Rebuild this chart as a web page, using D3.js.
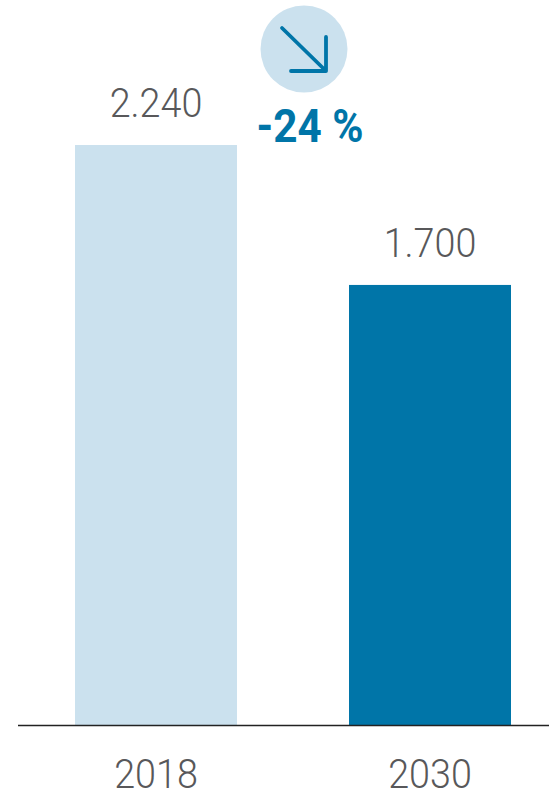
<!DOCTYPE html>
<html>
<head>
<meta charset="utf-8">
<script src="https://cdn.jsdelivr.net/npm/d3@7"></script>
<style>
html, body { margin: 0; padding: 0; background: #fff; overflow: hidden; }
text { font-family: Roboto, "Noto Sans", sans-serif; }
</style>
</head>
<body>
<div id="main_div"></div>
<script>
const years = ["2018", "2030"];
const values = [2240, 1700];
const valueLabels = ["2.240", "1.700"];
const barColors = ["#cbe1ee", "#0075a8"];
const changeLabel = "-24 %";

const WIDTH = 549, HEIGHT = 792;
const BASE_Y = 725.5;
const LABEL_SIZE = 41;
const LABEL_STRETCH = 0.92;

const svg = d3.select("#main_div").append("svg")
    .attr("width", WIDTH)
    .attr("height", HEIGHT);

const x = d3.scaleBand()
    .domain(years)
    .range([75, 511])
    .paddingInner(0.4088)
    .paddingOuter(0);

const y = d3.scaleLinear()
    .domain([0, 2240])
    .range([BASE_Y, 145]);

function centre(d) {
    return x(d) + x.bandwidth() / 2;
}

svg.selectAll("rect.bar")
    .data(years)
    .join("rect")
    .attr("class", "bar")
    .attr("x", d => x(d))
    .attr("y", (d, i) => y(values[i]))
    .attr("width", x.bandwidth())
    .attr("height", (d, i) => BASE_Y - y(values[i]))
    .attr("fill", (d, i) => barColors[i]);

svg.selectAll("text.value")
    .data(years)
    .join("text")
    .attr("class", "value")
    .attr("transform", (d, i) => `translate(${centre(d)},${y(values[i]) - 28}) scale(${LABEL_STRETCH},1)`)
    .attr("text-anchor", "middle")
    .attr("font-size", LABEL_SIZE)
    .attr("font-weight", 300)
    .attr("fill", "#58585a")
    .text((d, i) => valueLabels[i]);

// baseline
svg.append("line")
    .attr("x1", 18).attr("x2", WIDTH)
    .attr("y1", BASE_Y).attr("y2", BASE_Y)
    .attr("stroke", "#222").attr("stroke-width", 1.5);

svg.selectAll("text.year")
    .data(years)
    .join("text")
    .attr("class", "year")
    .attr("transform", d => `translate(${centre(d)},788) scale(${LABEL_STRETCH},1)`)
    .attr("text-anchor", "middle")
    .attr("font-size", LABEL_SIZE)
    .attr("font-weight", 300)
    .attr("fill", "#58585a")
    .text(d => d);

// change badge
const badge = svg.append("g").attr("transform", "translate(304,49)");
badge.append("circle").attr("r", 43.5).attr("fill", barColors[0]);
badge.append("path")
    .attr("d", "M-22,-21 L22,22 M-13,22 L22,22 L22,-12")
    .attr("fill", "none")
    .attr("stroke", barColors[1])
    .attr("stroke-width", 3.8)
    .attr("stroke-linecap", "round")
    .attr("stroke-linejoin", "round");

svg.append("text")
    .attr("transform", "translate(310,142) scale(0.92,1)")
    .attr("text-anchor", "middle")
    .attr("font-size", 46)
    .attr("font-weight", 700)
    .attr("fill", barColors[1])
    .text(changeLabel);
</script>
</body>
</html>
